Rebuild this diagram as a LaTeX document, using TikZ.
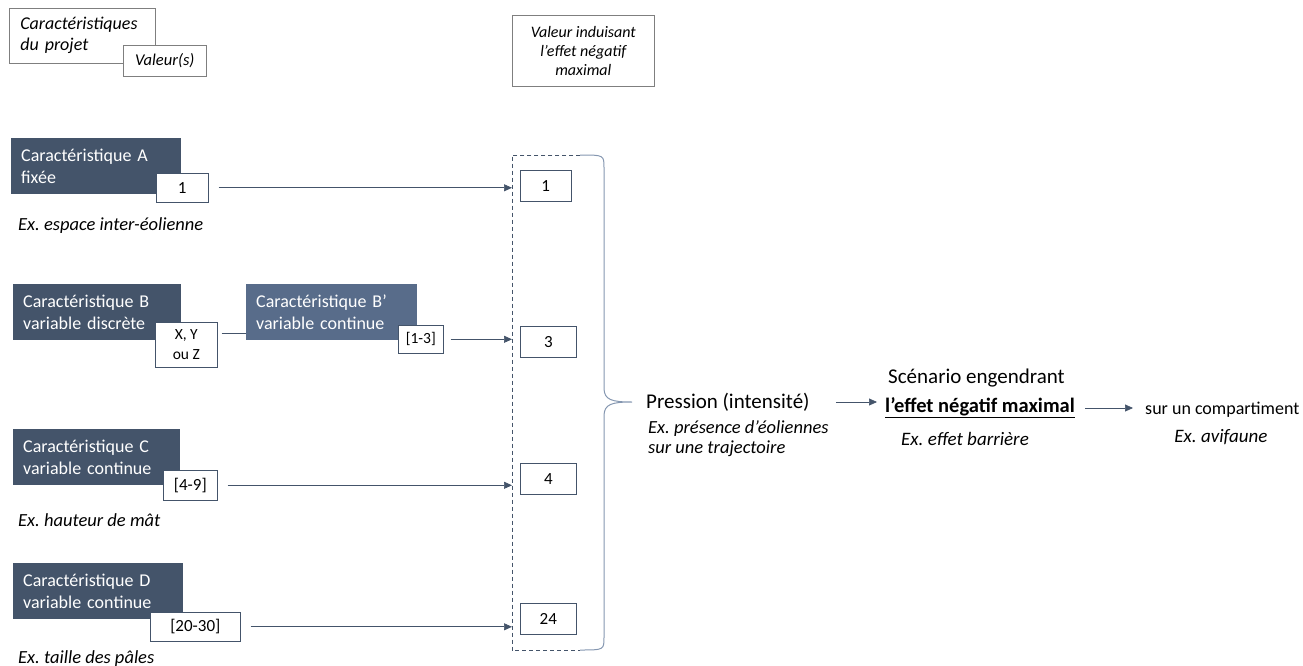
\documentclass[tikz,border=0pt]{standalone}
\usepackage{fontspec}
\setmainfont{Carlito}
\usetikzlibrary{arrows.meta}
\frenchspacing

\definecolor{ardoise}{HTML}{44546A}
\definecolor{ardoiseclair}{HTML}{586C8A}
\definecolor{accolade}{HTML}{8496B0}
\definecolor{cadregris}{HTML}{7F7F7F}

\begin{document}
\begin{tikzpicture}[%
      x=1pt, y=-1pt,
      carac/.style={fill=ardoise, text=white, anchor=north west, align=left,
        inner xsep=10pt, inner ysep=0pt, text width=150pt, minimum height=56pt,
        font=\fontsize{18}{22}\selectfont},
      valeur/.style={draw=ardoise, line width=0.6pt, fill=white, anchor=north west,
        inner sep=0pt, align=center, font=\fontsize{17}{20}\selectfont},
      legende/.style={draw=cadregris, line width=0.6pt, fill=white, anchor=north west,
        inner sep=0pt, font=\itshape\fontsize{16.5}{20}\selectfont},
      exemple/.style={anchor=west, inner sep=0pt, font=\itshape\fontsize{18.5}{20}\selectfont},
      texte/.style={inner sep=0pt},
      fleche/.style={draw=ardoise, line width=0.7pt, -{Triangle[length=8pt,width=7pt]}},
      ]
      \useasboundingbox (0,0) rectangle (1303,666);

      \node [legende, minimum width=146pt, minimum height=55pt, align=left,
        text width=124pt, inner xsep=11pt, font=\itshape\fontsize{18}{21}\selectfont]
        (projet) at (9,8) {Caractéristiques\\du projet};
      \node [legende, minimum width=83pt, minimum height=31pt] (valeurs) at (123,45) {Valeur(s)};
      \node [legende, minimum width=142pt, minimum height=71pt, align=center,
        font=\itshape\fontsize{16}{19}\selectfont]
        (induisant) at (512,15) {Valeur induisant\\l’effet négatif\\maximal};

      \node [carac] (carA) at (11,138) {Caractéristique A\\fixée};
      \node [valeur, minimum width=52pt, minimum height=29pt] (valA) at (156,173) {1};
      \node [exemple] (exA) at (18,226) {Ex. espace inter-éolienne};

      \node [carac, text width=148pt] (carB) at (13,284) {Caractéristique B\\variable discrète};
      \node [valeur, minimum width=62pt, minimum height=45pt, font=\fontsize{15.5}{20}\selectfont]
        (valB) at (155,322) {X, Y\\ou Z};
      \node [carac, fill=ardoiseclair, text width=151pt] (carBp) at (246,284) {Caractéristique B’\\variable continue};
      \node [valeur, minimum width=45pt, minimum height=28pt, font=\fontsize{15.5}{18}\selectfont]
        (valBp) at (398,325) {[1-3]};

      \node [carac, text width=147pt] (carC) at (13,429) {Caractéristique C\\variable continue};
      \node [valeur, minimum width=54pt, minimum height=30pt] (valC) at (163,470) {[4-9]};
      \node [exemple] (exC) at (18,520) {Ex. hauteur de mât};

      \node [carac] (carD) at (13,563) {Caractéristique D\\variable continue};
      \node [valeur, minimum width=90pt, minimum height=29pt] (valD) at (150,612) {[20-30]};
      \node [exemple] (exD) at (18,659) {Ex. taille des pâles};

      \node [texte, minimum width=92pt, minimum height=495pt, anchor=north west] (cadre) at (512,155) {};
      \draw [color=ardoise, line width=0.6pt, dash pattern=on 4pt off 3pt]
        ([xshift=-24pt]cadre.north east) -- (cadre.north west) -- (cadre.south west)
        -- ([xshift=-24pt]cadre.south east);
      \draw [color=accolade, line width=1pt]
        (580,155) .. controls (604,155) .. (604,168) -- (604,388)
        .. controls (604,400) and (612,402) .. (632,402)
        .. controls (612,402) and (604,404) .. (604,416) -- (604,637)
        .. controls (604,650) .. (580,650);

      \node [valeur, minimum width=51pt, minimum height=31pt] (v1) at (520,170) {1};
      \node [valeur, minimum width=56pt, minimum height=31pt] (v3) at (520,326) {3};
      \node [valeur, minimum width=56pt, minimum height=31pt] (v4) at (520,463) {4};
      \node [valeur, minimum width=56pt, minimum height=31pt] (v24) at (520,603) {24};

      \coordinate (lienB) at ([yshift=-11pt]valB.north east);
      \draw [color=ardoise, line width=0.6pt, shorten <=4pt] (lienB) -- (lienB -| carBp.west);

      \draw [fleche, shorten <=10pt] (valA.east) -- (valA.east -| cadre.west);
      \draw [fleche, shorten <=7pt] (valBp.east) -- (valBp.east -| cadre.west);
      \draw [fleche, shorten <=10pt] (valC.east) -- (valC.east -| cadre.west);
      \draw [fleche, shorten <=10pt] (valD.east) -- (valD.east -| cadre.west);

      \node [texte, anchor=west, font=\fontsize{21}{24}\selectfont] (pression) at (646,402) {Pression (intensité)};
      \node [texte, anchor=north west, align=left, font=\itshape\fontsize{18.5}{20}\selectfont]
        (exPression) at (648,420) {Ex. présence d’éoliennes\\sur une trajectoire};

      \node [texte, anchor=west, font=\fontsize{21}{24}\selectfont] (scenario) at (888,378) {Scénario engendrant};
      \node [texte, anchor=west, font=\bfseries\fontsize{20.5}{22}\selectfont] (effet) at (885,408) {\underline{l’effet négatif maximal}};
      \node [texte, font=\itshape\fontsize{19}{20}\selectfont] (exEffet) at (965,439) {Ex. effet barrière};

      \node [texte, anchor=west, font=\fontsize{18}{22}\selectfont] (compart) at (1145,410) {sur un compartiment};
      \node [texte, font=\itshape\fontsize{19}{20}\selectfont] (exAvif) at (1221,437) {Ex. avifaune};

      \draw [fleche, shorten <=26pt, shorten >=8pt] (pression.east) -- (pression.east -| effet.west);
      \draw [fleche, shorten <=10pt, shorten >=12pt] (effet.east) -- (effet.east -| compart.west);
      \end{tikzpicture}
\end{document}
